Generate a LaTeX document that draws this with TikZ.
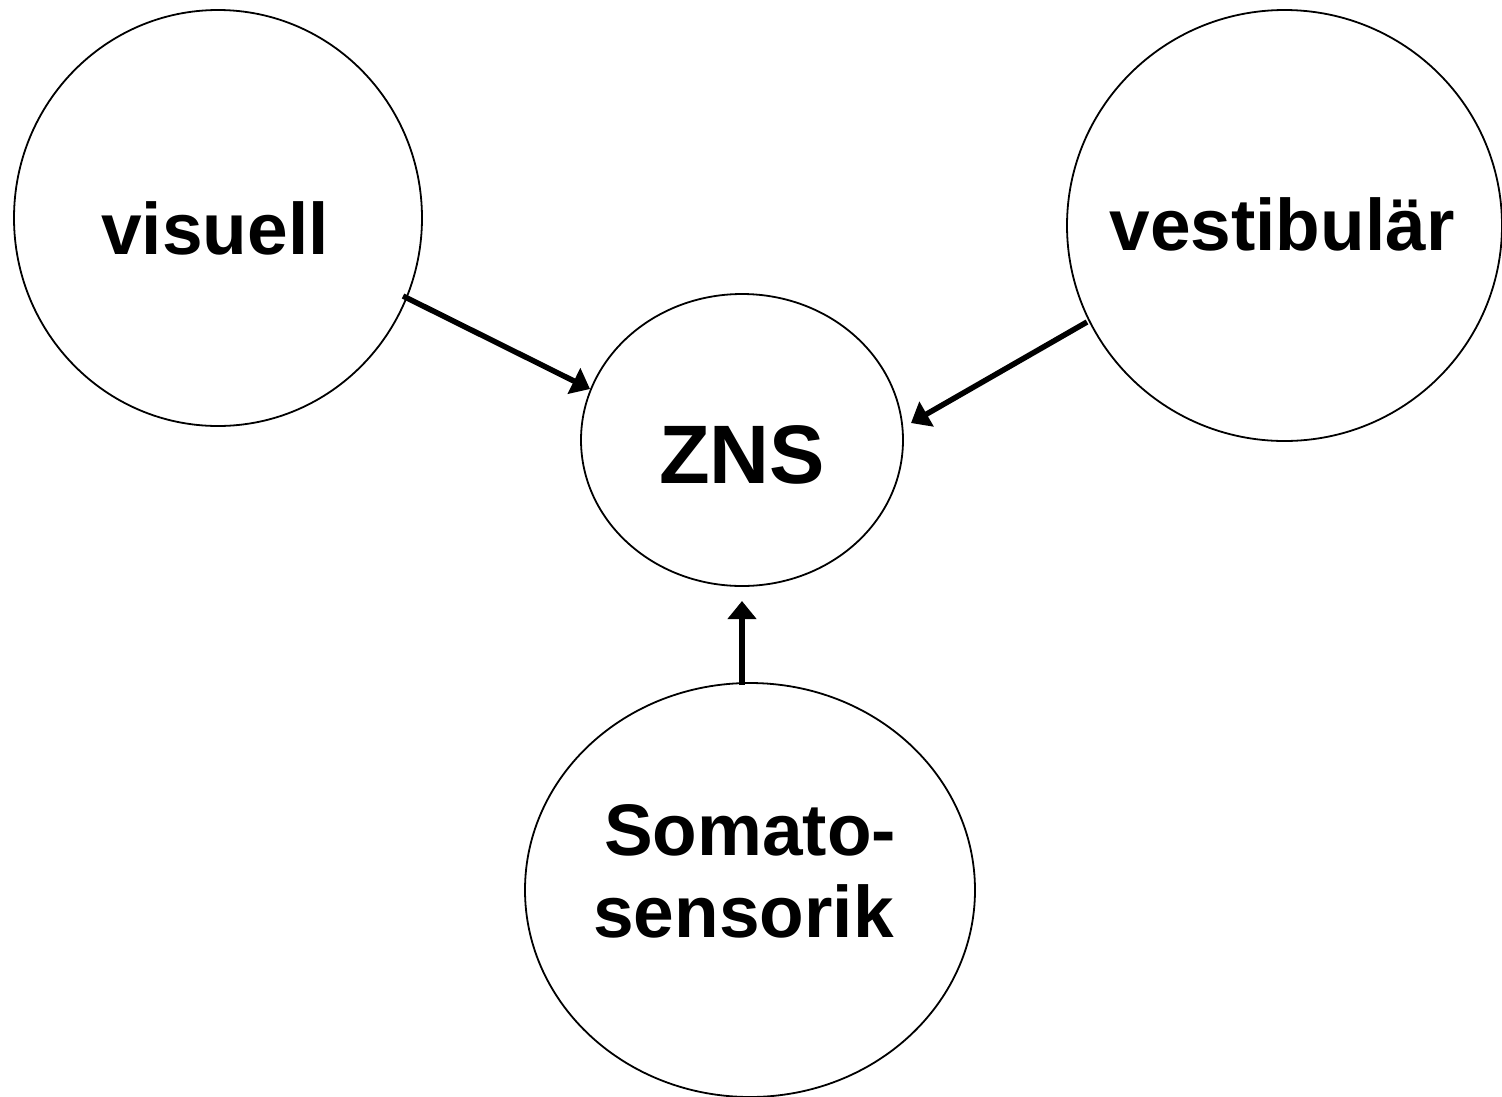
\documentclass[tikz,border=0pt]{standalone}
\usepackage{fontspec}
\setmainfont{Liberation Sans}
\usetikzlibrary{shapes.geometric,arrows.meta}
\begin{document}
\begin{tikzpicture}[x=1pt,y=-1pt,
  sense/.style={ellipse,draw=black,line width=1.8pt,inner sep=0pt},
  lbl/.style={anchor=base,inner sep=0pt,font=\bfseries\fontsize{73}{82}\selectfont},
  bigl/.style={anchor=base,inner sep=0pt,font=\bfseries\fontsize{83}{90}\selectfont},
  conn/.style={line width=5.5pt,-{Triangle[length=18pt,width=28pt]}}]
\useasboundingbox (0,0) rectangle (1502,1096);
\node[sense,minimum width=408pt,minimum height=416pt] (vis) at (218,218) {};
\node[sense,minimum width=435pt,minimum height=431pt] (ves) at (1284.5,225.5) {};
\node[sense,minimum width=322pt,minimum height=292pt] (zns) at (742,440) {};
\node[sense,minimum width=450pt,minimum height=414pt] (som) at (750,890) {};
\node[lbl] (tvis) at (215,254) {visuell};
\node[lbl] (tves) at (1282,250) {vestibulär};
\node[bigl] (tzns) at (742,483) {ZNS};
\node[lbl] (tsom1) at (750,855) {Somato-};
\node[lbl] (tsom2) at (743.5,937) {sensorik};
\coordinate (s1) at (403,296);
\coordinate (e1) at (590,389);
\coordinate (s2) at (1087,322);
\coordinate (e2) at (911,423);
\coordinate (s3) at (742,685);
\coordinate (e3) at (742,601);
\draw[conn] (s1) -- (e1);
\draw[conn] (s2) -- (e2);
\draw[conn] (s3) -- (e3);
\end{tikzpicture}
\end{document}
